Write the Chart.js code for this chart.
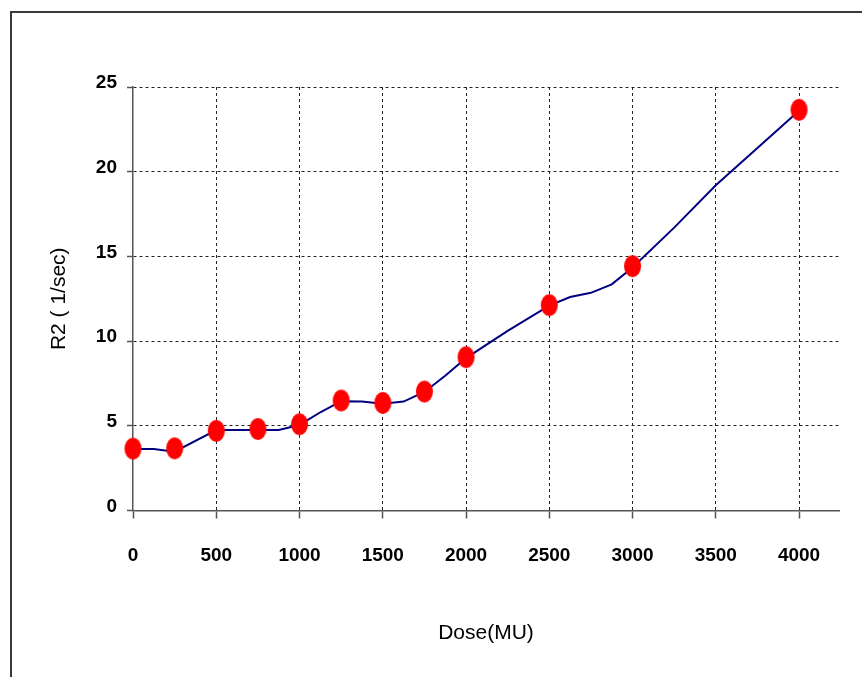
<!DOCTYPE html>
<html>
<head>
<meta charset="utf-8">
<script src="https://cdn.jsdelivr.net/npm/chart.js@4.4.1/dist/chart.umd.min.js"></script>
<style>
  html, body { margin: 0; padding: 0; background: #fff; }
  #wrap { position: relative; width: 862px; height: 677px; overflow: hidden; }
  #frame { position: absolute; left: 10px; top: 11px; width: 900px; height: 700px;
           border-left: 2px solid #3a3a3a; border-top: 2px solid #3a3a3a; }
  #chart { position: absolute; left: 0; top: 0; }
</style>
</head>
<body>
<div id="wrap">
  <div id="frame"></div>
  <canvas id="chart" width="862" height="677"></canvas>
</div>
<script>
// measured points (markers)
const markerDose = [0, 250, 500, 750, 1000, 1250, 1500, 1750, 2000, 2500, 3000, 4000];
const markerR2 = [3.65, 3.67, 4.70, 4.81, 5.09, 6.49, 6.35, 7.02, 9.05, 12.12, 14.42, 23.65];

// the drawn curve
const curveDose = [0, 125, 250, 500, 875, 1000, 1125, 1250, 1375, 1500, 1625, 1750, 1875, 2000,
  2250, 2500, 2625, 2750, 2875, 3000, 3250, 3500, 3750, 4000];
const curveR2 = [3.63, 3.63, 3.47, 4.75, 4.75, 5.05, 5.8, 6.45, 6.43, 6.3, 6.43, 7.0, 7.95, 9.0,
  10.6, 12.1, 12.6, 12.85, 13.35, 14.35, 16.7, 19.2, 21.4, 23.6];

const doseTicks = [0, 500, 1000, 1500, 2000, 2500, 3000, 3500, 4000];
const r2Ticks = [0, 5, 10, 15, 20, 25];

const FONT = "'Liberation Sans Narrow', 'Arial Narrow', 'Liberation Sans', Arial, sans-serif";

// red oval marker
const dot = document.createElement("canvas");
dot.width = 19; dot.height = 24;
const dc = dot.getContext("2d");
dc.fillStyle = "#ff0000";
dc.beginPath();
dc.ellipse(9.5, 12, 8.5, 11, 0, 0, Math.PI * 2);
dc.fill();

const gridColor = c => c.tick && c.tick.value === 0 ? "rgba(0,0,0,0)" : "#222";

new Chart(document.getElementById("chart"), {
  type: "scatter",
  data: {
    datasets: [
      {
        data: markerDose.map((x, i) => ({ x, y: markerR2[i] })),
        showLine: false,
        pointStyle: dot,
        pointRadius: 11,
        clip: false
      },
      {
        data: curveDose.map((x, i) => ({ x, y: curveR2[i] })),
        showLine: true,
        borderColor: "#000080",
        borderWidth: 2,
        pointRadius: 0,
        tension: 0
      }
    ]
  },
  options: {
    responsive: false,
    animation: false,
    layout: { padding: { top: 87, right: 23, bottom: 0, left: 0 } },
    plugins: { legend: { display: false }, tooltip: { enabled: false } },
    scales: {
      x: {
        type: "linear",
        min: 0,
        max: 4240,
        afterBuildTicks: s => { s.ticks = doseTicks.map(v => ({ value: v })); },
        afterFit: s => { s.height = 166.5; },
        border: { color: "#555", width: 1.5, dash: [3, 3] },
        grid: { color: gridColor, lineWidth: 1, tickLength: 8, tickColor: "#555", tickWidth: 1.5 },
        ticks: { color: "#000", padding: 26, callback: v => String(v),
                 font: { family: FONT, size: 19, weight: "bold" } },
        title: { display: true, text: "Dose(MU)", color: "#000", padding: { top: 0, bottom: 31 },
                 font: { family: FONT, size: 21 } }
      },
      y: {
        min: 0,
        max: 25,
        afterBuildTicks: s => { s.ticks = r2Ticks.map(v => ({ value: v })); },
        afterFit: s => { s.width = 133; },
        border: { color: "#555", width: 1.5, dash: [3, 3] },
        grid: { color: gridColor, lineWidth: 1, tickLength: 6, tickColor: "#555", tickWidth: 1.5 },
        ticks: { color: "#000", padding: 10, labelOffset: -4, callback: v => String(v),
                 font: { family: FONT, size: 19, weight: "bold" } },
        title: { display: true, text: "R2 ( 1/sec)", color: "#000", padding: { top: 47, bottom: 0 },
                 font: { family: FONT, size: 21 } }
      }
    }
  }
});
</script>
</body>
</html>
